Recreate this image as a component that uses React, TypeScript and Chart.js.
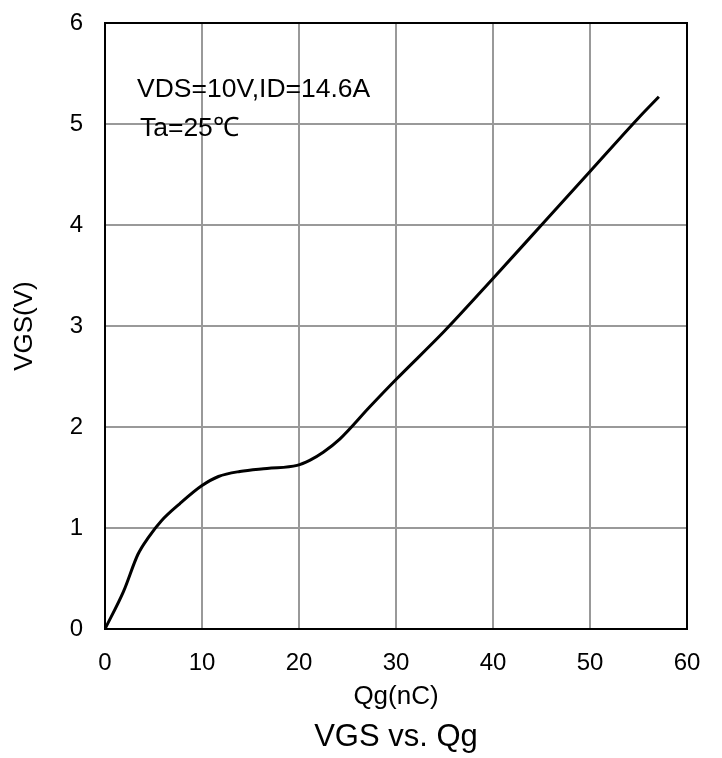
import React, { useEffect, useRef } from "react";
import { Chart, registerables } from "chart.js";

Chart.register(...registerables);

const qg: number[] = [0, 1.9, 3.4, 4.5, 5.8, 7.7, 10.0, 11.7, 13.9, 16.7, 19.8, 21.1, 22.5, 24.2, 27.3, 30, 35, 40, 45, 50, 55, 57.1];
const vgs: number[] = [0, 0.37, 0.74, 0.91, 1.07, 1.24, 1.42, 1.51, 1.56, 1.59, 1.62, 1.67, 1.75, 1.88, 2.2, 2.47, 2.95, 3.47, 4.0, 4.53, 5.06, 5.27];

const xTitle = "Qg(nC)";
const yTitle = "VGS(V)";
const chartTitle = "VGS vs. Qg";
const noteLines = ["VDS=10V,ID=14.6A", "Ta=25℃"];
const notePos = [
  { x: 3.3, y: 5.27 },
  { x: 3.6, y: 4.88 },
];

const FONT = "'Liberation Sans', Arial, sans-serif";

const overlay = {
  id: "overlay",
  afterDraw(chart: any) {
    const { ctx, chartArea, scales } = chart;
    ctx.save();
    ctx.strokeStyle = "#000";
    ctx.lineWidth = 2;
    ctx.strokeRect(chartArea.left, chartArea.top, chartArea.right - chartArea.left, chartArea.bottom - chartArea.top);
    ctx.fillStyle = "#000";
    ctx.font = `26.5px ${FONT}`;
    ctx.textAlign = "left";
    ctx.textBaseline = "alphabetic";
    noteLines.forEach((t, i) => {
      ctx.fillText(t, scales.x.getPixelForValue(notePos[i].x), scales.y.getPixelForValue(notePos[i].y));
    });
    const cx = (chartArea.left + chartArea.right) / 2;
    ctx.textAlign = "center";
    ctx.textBaseline = "middle";
    ctx.font = `26px ${FONT}`;
    ctx.fillText(xTitle, cx, chartArea.bottom + 68);
    ctx.font = `31px ${FONT}`;
    ctx.fillText(chartTitle, cx, chartArea.bottom + 108);
    ctx.font = `26px ${FONT}`;
    ctx.translate(25, (chartArea.top + chartArea.bottom) / 2);
    ctx.rotate(-Math.PI / 2);
    ctx.fillText(yTitle, 0, 0);
    ctx.restore();
  },
};

export default function App() {
  const ref = useRef<HTMLCanvasElement | null>(null);
  useEffect(() => {
    if (!ref.current) return;
    const chart = new Chart(ref.current, {
      type: "line",
      data: {
        datasets: [
          {
            data: qg.map((x, i) => ({ x, y: vgs[i] })),
            borderColor: "#000",
            borderWidth: 3,
            pointRadius: 0,
            cubicInterpolationMode: "monotone",
            fill: false,
          },
        ],
      },
      options: {
        animation: false,
        responsive: false,
        maintainAspectRatio: false,
        layout: { padding: { left: 0, top: 23, right: 35, bottom: 0 } },
        plugins: { legend: { display: false }, tooltip: { enabled: false }, title: { display: false } },
        scales: {
          x: {
            type: "linear",
            min: 0,
            max: 60,
            ticks: { stepSize: 10, color: "#000", padding: 20, font: { size: 24, family: FONT } },
            grid: { color: "#999", lineWidth: 2, drawTicks: false },
            border: { display: false },
            afterFit: (s: any) => {
              s.height = 129;
              s.paddingLeft = 0;
              s.paddingRight = 0;
            },
          },
          y: {
            min: 0,
            max: 6,
            ticks: { stepSize: 1, color: "#000", padding: 22, font: { size: 24, family: FONT } },
            grid: { color: "#999", lineWidth: 2, drawTicks: false },
            border: { display: false },
            afterFit: (s: any) => {
              s.width = 105;
              s.paddingTop = 0;
              s.paddingBottom = 0;
            },
          },
        },
      },
      plugins: [overlay],
    } as any);
    return () => chart.destroy();
  }, []);
  return (
    <div style={{ position: "fixed", left: 0, top: 0, width: 722, height: 758, background: "#fff" }}>
      <canvas ref={ref} width={722} height={758} style={{ width: 722, height: 758 }} />
    </div>
  );
}
